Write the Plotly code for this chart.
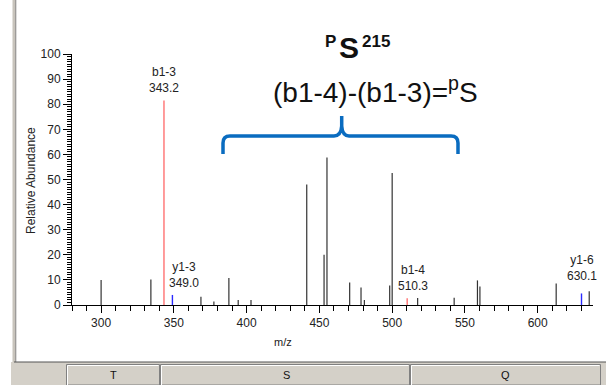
import plotly.graph_objects as go

# ---- data ----
mz_black = [300.0, 334.2, 368.6, 377.5, 387.8, 394.2, 403.0, 441.3, 453.2, 455.2,
            470.8, 478.6, 480.9, 498.3, 500.0, 517.5, 542.6, 558.6, 560.3, 612.7, 635.4]
ab_black = [10.0, 10.2, 3.3, 1.4, 10.8, 2.0, 2.0, 48.0, 20.0, 58.8,
            9.0, 7.0, 2.0, 7.8, 52.6, 2.8, 2.9, 9.8, 7.4, 8.6, 5.5]
mz_red = [343.2, 510.3]
ab_red = [81.5, 2.7]
mz_blue = [349.0, 630.1]
ab_blue = [4.0, 4.6]
ion_labels = ["b1-3<br>343.2", "y1-3<br>349.0", "b1-4<br>510.3", "y1-6<br>630.1"]
ion_mz = [343.2, 349.0, 510.3, 630.1]
ion_ab = [81.5, 4.0, 2.7, 4.6]
ion_xshift = [0, 12, 6, 0]
ion_yshift = [3, 3, 3, 8]
residues = ["T", "S", "Q"]

FONT = "Liberation Sans, Arial, sans-serif"

# plot area in pixels
L, R, T, B = 72, 593, 54, 305
W, H = 606, 385


def px(x):
    return (x - L) / (R - L)


def py(y):
    return (B - y) / (B - T)


def stems(xs, ys):
    X, Y = [], []
    for a, b in zip(xs, ys):
        X += [a, a, None]
        Y += [0, b, None]
    return X, Y


fig = go.Figure()
for xs, ys, col, w in [(mz_black, ab_black, "#333333", 1.2),
                       (mz_red, ab_red, "#ff5a5a", 1.2),
                       (mz_blue, ab_blue, "#2a2aff", 1.4)]:
    X, Y = stems(xs, ys)
    fig.add_trace(go.Scatter(x=X, y=Y, mode="lines", line=dict(color=col, width=w),
                             hoverinfo="skip", showlegend=False))

ann = []
for t, x, y, xs, ys in zip(ion_labels, ion_mz, ion_ab, ion_xshift, ion_yshift):
    ann.append(dict(x=x, y=y, xref="x", yref="y", text=t, showarrow=False,
                    xanchor="center", yanchor="bottom", xshift=xs, yshift=ys,
                    font=dict(family=FONT, size=12, color="#222")))

# title pieces
ann.append(dict(x=px(330), y=py(41.5), xref="paper", yref="paper", text="<b>P</b>",
                showarrow=False, xanchor="center", yanchor="middle",
                font=dict(family=FONT, size=17, color="#111")))
ann.append(dict(x=px(348.5), y=py(47.5), xref="paper", yref="paper", text="<b>S</b>",
                showarrow=False, xanchor="center", yanchor="middle",
                font=dict(family=FONT, size=30, color="#111")))
ann.append(dict(x=px(376), y=py(41.5), xref="paper", yref="paper", text="<b>215</b>",
                showarrow=False, xanchor="center", yanchor="middle",
                font=dict(family=FONT, size=17, color="#111")))
ann.append(dict(x=px(375.5), y=py(90), xref="paper", yref="paper",
                text="(b1-4)-(b1-3)=<sup>p</sup>S",
                showarrow=False, xanchor="center", yanchor="middle",
                font=dict(family=FONT, size=28, color="#111")))

# axis titles
ann.append(dict(x=px(283), y=py(342), xref="paper", yref="paper", text="m/z",
                showarrow=False, xanchor="center", yanchor="middle",
                font=dict(family=FONT, size=11, color="#222")))
ann.append(dict(x=px(31), y=py(181), xref="paper", yref="paper", text="Relative Abundance",
                showarrow=False, xanchor="center", yanchor="middle", textangle=-90,
                font=dict(family=FONT, size=12, color="#222")))

shapes = []
# left panel border
shapes.append(dict(type="rect", xref="paper", yref="paper", x0=px(12.5), x1=px(16),
                   y0=py(362), y1=py(0), fillcolor="#c8c4bc", line=dict(width=0), layer="below"))
shapes.append(dict(type="line", xref="paper", yref="paper", x0=px(15.8), x1=px(15.8),
                   y0=py(362), y1=py(0), line=dict(color="#8a8a8a", width=1)))
# bottom bar
shapes.append(dict(type="rect", xref="paper", yref="paper", x0=px(11), x1=px(606),
                   y0=py(385), y1=py(362), fillcolor="#d4d0c8", line=dict(width=0), layer="below"))
shapes.append(dict(type="line", xref="paper", yref="paper", x0=px(14), x1=px(606),
                   y0=py(362), y1=py(362), line=dict(color="#555555", width=1.2)))
# buttons
btn_edges = [66, 160, 410, 601]
for i, lab in enumerate(residues):
    x0, x1 = btn_edges[i], btn_edges[i + 1]
    shapes.append(dict(type="rect", xref="paper", yref="paper", x0=px(x0 + 0.5), x1=px(x1 - 0.5),
                       y0=py(385), y1=py(364.5), fillcolor="#d4d0c8",
                       line=dict(color="#808080", width=1)))
    shapes.append(dict(type="line", xref="paper", yref="paper", x0=px(x0 + 1.5), x1=px(x1 - 1.5),
                       y0=py(365.5), y1=py(365.5), line=dict(color="#ffffff", width=1)))
    shapes.append(dict(type="line", xref="paper", yref="paper", x0=px(x0 + 1.5), x1=px(x0 + 1.5),
                       y0=py(385), y1=py(365.5), line=dict(color="#ffffff", width=1)))
    ann.append(dict(x=px((x0 + x1) / 2 + (1 if i == 1 else 0)), y=py(375), xref="paper", yref="paper",
                    text=lab, showarrow=False, xanchor="center", yanchor="middle",
                    font=dict(family=FONT, size=11, color="#111")))

# blue curly bracket (pixel path converted to paper coords)
def P(x, y):
    return f"{px(x):.5f},{py(y):.5f}"

path = (f"M {P(223,154)} L {P(223,143)} Q {P(223,136)} {P(230,136)} "
        f"L {P(334,136)} Q {P(341,136)} {P(341.7,126)} L {P(341.7,116)} "
        f"M {P(341.7,126)} Q {P(342.4,136)} {P(349,136)} "
        f"L {P(451,136)} Q {P(458,136)} {P(458,143)} L {P(458,154)}")
shapes.append(dict(type="path", xref="paper", yref="paper", path=path,
                   line=dict(color="#0a6cc0", width=3.5)))

fig.update_layout(
    width=W, height=H,
    margin=dict(l=L, r=W - R, t=T, b=H - B),
    paper_bgcolor="white", plot_bgcolor="white",
    font=dict(family=FONT, size=12, color="#222"),
    xaxis=dict(range=[280, 638], tick0=300, dtick=50, ticks="outside", ticklen=7,
               tickcolor="black", showline=True, linecolor="black", linewidth=1,
               showgrid=False, zeroline=False, tickfont=dict(size=12, color="#222"),
               minor=dict(dtick=10, tick0=280, ticks="outside", ticklen=5, tickcolor="black")),
    yaxis=dict(range=[0, 100], tick0=0, dtick=10, ticks="outside", ticklen=8,
               tickcolor="black", showline=True, linecolor="black", linewidth=1,
               showgrid=False, zeroline=False, tickfont=dict(size=12, color="#222"),
               minor=dict(dtick=1, ticks="outside", ticklen=4, tickcolor="black")),
    annotations=ann, shapes=shapes,
)

fig.write_html("out.html")
